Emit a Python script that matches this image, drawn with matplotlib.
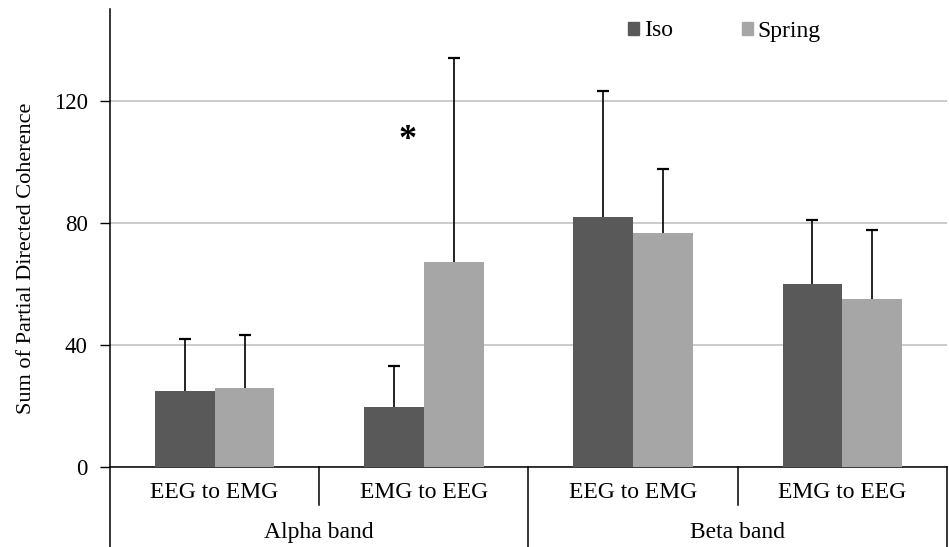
import matplotlib
matplotlib.use("Agg")
import matplotlib.pyplot as plt
import matplotlib.transforms as mtransforms
from matplotlib.patches import Patch
import numpy as np

plt.rcParams['font.family'] = ['Liberation Serif', 'DejaVu Serif']

directions = ["EEG to EMG", "EMG to EEG", "EEG to EMG", "EMG to EEG"]
bands = ["Alpha band", "Beta band"]
iso_mean = [25.0, 19.8, 82.0, 60.0]
iso_err = [17.0, 13.4, 41.2, 21.0]
spring_mean = [26.0, 67.2, 76.8, 55.2]
spring_err = [17.4, 67.0, 20.8, 22.4]
yticks = [0, 40, 80, 120]
iso_color = "#595959"
spring_color = "#a6a6a6"

fig = plt.figure(figsize=(9.49, 5.47), dpi=100)
ax = fig.add_axes([0.1159, 0.1457, 0.8820, 0.8371])

x = np.arange(len(directions)) + 0.5
w = 0.2857
ax.bar(x - w / 2, iso_mean, w, color=iso_color, zorder=3, label="Iso")
ax.bar(x + w / 2, spring_mean, w, color=spring_color, zorder=3, label="Spring")
for xs, m, e in [(x - w / 2, iso_mean, iso_err), (x + w / 2, spring_mean, spring_err)]:
    eb = ax.errorbar(xs, m, yerr=[np.zeros(len(e)), e], fmt="none",
                     ecolor="black", elinewidth=1.2, capsize=4, capthick=1.6, zorder=4)
    eb[1][0].set_visible(False)  # no cap on the lower end

ax.set_xlim(0, 4)
ax.set_ylim(0, 150)
ax.set_yticks(yticks)
ax.yaxis.grid(True, color="#bdbdbd", linewidth=1.1, zorder=0)
ax.set_axisbelow(True)
ax.set_xticks([])
ax.tick_params(axis="y", length=7, width=1, pad=9, labelsize=16.5, direction="out")
for s in ["top", "right"]:
    ax.spines[s].set_visible(False)
ax.spines["left"].set_linewidth(1.1)
ax.spines["bottom"].set_linewidth(1.1)

# category labels under the axis
trans = mtransforms.blended_transform_factory(ax.transData, ax.transAxes)
for xi, lab in zip(x, directions):
    ax.text(xi, -0.056, lab, transform=trans, ha="center", va="center", fontsize=17)
for bi, lab in enumerate(bands):
    ax.text(1 + 2 * bi, -0.143, lab, transform=trans, ha="center", va="center", fontsize=17)

bottom = -0.1457 / 0.8371
for xd in [1, 3]:
    ax.plot([xd, xd], [0, -0.082], transform=trans, color="black", lw=1.1, clip_on=False)
for xd in [2, 4]:
    ax.plot([xd, xd], [0, bottom], transform=trans, color="black", lw=1.1, clip_on=False)
ax.plot([0, 0], [0, bottom], transform=ax.transAxes, color="black", lw=1.1, clip_on=False)

ax.text(1.42, 107, "*", ha="center", va="center", fontsize=26, fontweight="bold")

fig.text(27 / 949, 0.527, "Sum of Partial Directed Coherence", rotation=90,
         ha="center", va="center", fontsize=16)

handles = [Patch(color=iso_color, label="Iso"), Patch(color=spring_color, label="Spring")]
fig.legend(handles=handles, loc="center left", bbox_to_anchor=(628 / 949, 1 - 31 / 547),
           ncol=2, frameon=False, fontsize=17, handlelength=0.48, handleheight=0.48,
           handletextpad=0.2, columnspacing=2.9, borderpad=0, borderaxespad=0)

fig.savefig("out.png", dpi=100)
